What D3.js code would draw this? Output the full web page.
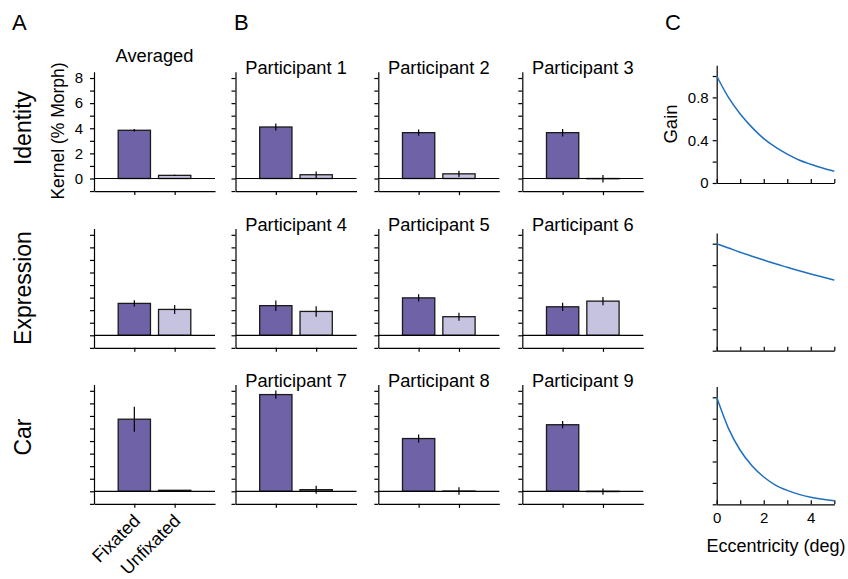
<!DOCTYPE html>
<html>
<head>
<meta charset="utf-8">
<script src="https://cdn.jsdelivr.net/npm/d3@7"></script>
<style>
  body { margin: 0; background: #fff; }
  svg { font-family: "Liberation Sans", Arial, Helvetica, sans-serif; }
  .axis path, .axis line { stroke: #000; stroke-width: 1.2; }
  .axis text { fill: #000; }
</style>
</head>
<body>
<svg width="848" height="579"></svg>
<script>
// bar data: rows = Identity, Expression, Car; columns = Averaged, then 3 participants
var conditions = ["Fixated", "Unfixated"];
var rowNames = ["Identity", "Expression", "Car"];
var panelTitles = [
  ["Averaged", "Participant 1", "Participant 2", "Participant 3"],
  ["", "Participant 4", "Participant 5", "Participant 6"],
  ["", "Participant 7", "Participant 8", "Participant 9"]
];
var fixatedMean = [[3.84, 4.1, 3.65, 3.65], [2.54, 2.36, 2.98, 2.27], [5.74, 7.7, 4.2, 5.3]];
var fixatedErr = [[0.1, 0.27, 0.25, 0.3], [0.25, 0.42, 0.28, 0.33], [1.0, 0.33, 0.32, 0.29]];
var unfixatedMean = [[0.25, 0.3, 0.37, -0.02], [2.06, 1.9, 1.48, 2.72], [0.08, 0.13, 0.02, -0.02]];
var unfixatedErr = [[0.05, 0.26, 0.25, 0.3], [0.36, 0.42, 0.32, 0.32], [0, 0.32, 0.3, 0.25]];
var kernelTicks = [0, 2, 4, 6, 8];

// gain curves (panel C)
var eccentricity = [0, 0.5, 1, 1.5, 2, 2.5, 3, 3.5, 4, 4.5, 5];
var gainIdentity = [1.0, 0.80, 0.645, 0.52, 0.415, 0.335, 0.27, 0.215, 0.175, 0.14, 0.11];
var gainExpression = [1.0, 0.96, 0.92, 0.883, 0.847, 0.812, 0.78, 0.748, 0.717, 0.688, 0.66];
var gainCar = [1.0, 0.71, 0.505, 0.36, 0.255, 0.18, 0.13, 0.093, 0.066, 0.047, 0.034];
var gainTickLabels = [0, 0.4, 0.8];
var eccTickLabels = [0, 2, 4];

var fixColor = "#7062a7",
    unfixColor = "#c6c3e0",
    lineColor = "#1f6fc0";

var svg = d3.select("svg");

var colX = [94, 235.5, 378.3, 522.3],
    rowZero = [178.5, 335.3, 491.3],
    pxPerUnit = 12.56,
    axisW = 121;

// panel letters
svg.selectAll("text.letter")
  .data([["A", 12], ["B", 234], ["C", 665]])
  .enter().append("text")
  .attr("class", "letter")
  .attr("x", function(d) { return d[1]; })
  .attr("y", 30)
  .attr("font-size", 22)
  .text(function(d) { return d[0]; });

// row labels
var rowLabelY = [128, 288, 437];
rowNames.forEach(function(name, r) {
  svg.append("text")
    .attr("transform", "translate(31," + rowLabelY[r] + ") rotate(-90)")
    .attr("text-anchor", "middle")
    .attr("font-size", 23)
    .text(name);
});

svg.append("text")
  .attr("transform", "translate(64,131) rotate(-90)")
  .attr("text-anchor", "middle")
  .attr("font-size", 17.5)
  .text("Kernel (% Morph)");

var fmt2 = function(v) { return kernelTicks.indexOf(v) >= 0 ? v : ""; };

for (var r = 0; r < 3; r++) {
  for (var c = 0; c < 4; c++) {
    var x0 = colX[c];
    var x = d3.scaleLinear().domain([0, 3]).range([x0, x0 + axisW]);
    var y = d3.scaleLinear().domain([-1, 8.5])
      .range([rowZero[r] + pxPerUnit, rowZero[r] - 8.5 * pxPerUnit]);

    var g = svg.append("g");

    var yAxis = d3.axisLeft(y).tickValues(d3.range(-1, 9)).tickSize(4).tickSizeOuter(0).tickPadding(7)
      .tickFormat(r === 0 && c === 0 ? fmt2 : function() { return ""; });
    g.append("g").attr("class", "axis")
      .attr("transform", "translate(" + x0 + ",0)")
      .call(yAxis)
      .selectAll("text").attr("font-size", 15).attr("font-family", null);

    var xAxis = d3.axisBottom(x).tickValues([1, 2]).tickSize(4).tickSizeOuter(0)
      .tickFormat(function() { return ""; });
    g.append("g").attr("class", "axis")
      .attr("transform", "translate(0," + y(-1) + ")")
      .call(xAxis);

    var bars = [
      {pos: 1, v: fixatedMean[r][c], e: fixatedErr[r][c], fill: fixColor},
      {pos: 2, v: unfixatedMean[r][c], e: unfixatedErr[r][c], fill: unfixColor}
    ];

    g.selectAll("rect.bar").data(bars).enter().append("rect")
      .attr("class", "bar")
      .attr("x", function(d) { return x(d.pos - 0.4); })
      .attr("width", x(1.4) - x(0.6))
      .attr("y", function(d) { return y(Math.max(0, d.v)); })
      .attr("height", function(d) { return Math.abs(y(d.v) - y(0)); })
      .attr("fill", function(d) { return d.fill; })
      .attr("stroke", "#1a1a1a")
      .attr("stroke-width", 1.3);

    // zero line
    g.append("line")
      .attr("x1", x(0)).attr("x2", x(3))
      .attr("y1", y(0)).attr("y2", y(0))
      .attr("stroke", "#000").attr("stroke-width", 1.2);

    g.selectAll("line.err").data(bars.filter(function(d) { return d.e > 0; }))
      .enter().append("line")
      .attr("class", "err")
      .attr("x1", function(d) { return x(d.pos); })
      .attr("x2", function(d) { return x(d.pos); })
      .attr("y1", function(d) { return y(d.v - d.e); })
      .attr("y2", function(d) { return y(d.v + d.e); })
      .attr("stroke", "#000").attr("stroke-width", 1.2);

    if (panelTitles[r][c]) {
      svg.append("text")
        .attr("x", x(1.5))
        .attr("y", c === 0 ? 62 : y(8.5) + 2.5)
        .attr("text-anchor", "middle")
        .attr("font-size", 18.3)
        .text(panelTitles[r][c]);
    }

    if (r === 2 && c === 0) {
      g.selectAll("text.cond").data(conditions).enter().append("text")
        .attr("class", "cond")
        .attr("transform", function(d, i) {
          return "translate(" + (x(i + 1) + 7) + "," + (y(-1) + 18) + ") rotate(-45)";
        })
        .attr("text-anchor", "end")
        .attr("font-size", 18)
        .text(function(d) { return d; });
    }
  }
}

// panel C
var gains = [gainIdentity, gainExpression, gainCar];
var cZero = [183, 350.7, 504.3];
var cx = d3.scaleLinear().domain([0, 5]).range([716.7, 834.3]);

gains.forEach(function(gain, r) {
  var cy = d3.scaleLinear().domain([0, 1.1]).range([cZero[r], cZero[r] - 117.7]);
  var g = svg.append("g");

  g.append("g").attr("class", "axis")
    .attr("transform", "translate(" + cx(0) + ",0)")
    .call(d3.axisLeft(cy).tickValues([0, 0.2, 0.4, 0.6, 0.8, 1.0]).tickSize(4).tickSizeOuter(0).tickPadding(4)
      .tickFormat(function(v) {
        if (r !== 0) return "";
        return gainTickLabels.some(function(t) { return Math.abs(t - v) < 1e-9; }) ? v : "";
      }))
    .selectAll("text").attr("font-size", 15).attr("font-family", null);

  g.append("g").attr("class", "axis")
    .attr("transform", "translate(0," + cZero[r] + ")")
    .call(d3.axisBottom(cx).tickValues(d3.range(0, 6)).tickSize(-4).tickSizeOuter(0).tickPadding(8)
      .tickFormat(function(v) { return r === 2 && eccTickLabels.indexOf(v) >= 0 ? v : ""; }))
    .selectAll("text").attr("font-size", 15).attr("font-family", null);

  var line = d3.line()
    .x(function(d, i) { return cx(eccentricity[i]); })
    .y(function(d) { return cy(d); })
    .curve(d3.curveMonotoneX);

  g.append("path")
    .datum(gain)
    .attr("d", line)
    .attr("fill", "none")
    .attr("stroke", lineColor)
    .attr("stroke-width", 1.5);
});

svg.append("text")
  .attr("transform", "translate(677,124) rotate(-90)")
  .attr("text-anchor", "middle")
  .attr("font-size", 18.5)
  .text("Gain");

svg.append("text")
  .attr("x", 776)
  .attr("y", 552)
  .attr("text-anchor", "middle")
  .attr("font-size", 18)
  .text("Eccentricity (deg)");
</script>
</body>
</html>
